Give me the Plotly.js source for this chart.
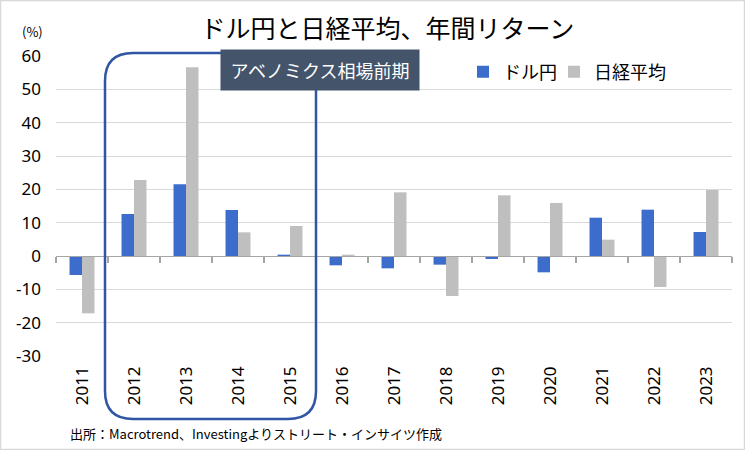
<!DOCTYPE html>
<html><head><meta charset="utf-8">
<script src="https://cdn.plot.ly/plotly-3.0.1.min.js"></script>
<style>body{margin:0;background:#fff}#c{width:745px;height:450px}</style>
</head><body><div id="c"></div>
<script>
const years = ['2011','2012','2013','2014','2015','2016','2017','2018','2019','2020','2021','2022','2023'];
const usdjpy = [-5.7, 12.6, 21.5, 13.8, 0.4, -2.8, -3.7, -2.6, -0.9, -4.9, 11.5, 13.9, 7.2];
const nikkei = [-17.2, 22.8, 56.6, 7.1, 9.0, 0.4, 19.1, -12.0, 18.2, 15.9, 4.9, -9.3, 19.8];
const seriesNames = ['ドル円', '日経平均'];
const yTicks = [-30, -20, -10, 0, 10, 20, 30, 40, 50, 60];

const FONT = '"Noto Sans CJK JP", "Noto Sans", sans-serif';
const NUMFONT = '"Noto Sans", "Noto Sans CJK JP", sans-serif';
const L = 56, R = 13, T = 56, B = 94, W = 745, H = 450;
const pw = W - L - R, ph = H - T - B;
const px = v => (v - L) / pw;
const py = v => (H - B - v) / ph;

// rounded rectangle (paper coordinates)
const rx0 = px(105), rx1 = px(316), ry0 = py(419), ry1 = py(53);
const cx = 28 / pw, cy = 28 / ph;
const rpath = `M ${rx0} ${ry1 - cy} Q ${rx0} ${ry1} ${rx0 + cx} ${ry1} L ${rx1 - cx} ${ry1} Q ${rx1} ${ry1} ${rx1} ${ry1 - cy} ` +
  `L ${rx1} ${ry0 + cy} Q ${rx1} ${ry0} ${rx1 - cx} ${ry0} L ${rx0 + cx} ${ry0} Q ${rx0} ${ry0} ${rx0} ${ry0 + cy} Z`;

const data = [
  {type: 'bar', name: seriesNames[0], x: years, y: usdjpy, marker: {color: '#3d6dcc'}, legend: 'legend'},
  {type: 'bar', name: seriesNames[1], x: years, y: nikkei, marker: {color: '#bfbfbf'}, legend: 'legend2'},
  {type: 'scatter', mode: 'markers', x: years, y: years.map(() => 0), marker: {opacity: 0, size: 1}, xaxis: 'x2', yaxis: 'y', showlegend: false, hoverinfo: 'skip'}
];

const xr = [-0.5, years.length - 0.5];
const legendBase = {orientation: 'h', xanchor: 'left', y: py(72), yanchor: 'middle', font: {size: 18, color: '#000'},
  bgcolor: 'rgba(0,0,0,0)', itemwidth: 30};
const layout = {
  width: W, height: H,
  margin: {l: L, r: R, t: T, b: B},
  paper_bgcolor: '#fff', plot_bgcolor: '#fff',
  font: {family: FONT, color: '#000'},
  barmode: 'group', bargap: 0.52, bargroupgap: 0,
  title: {text: 'ドル円と日経平均、年間リターン', font: {size: 25, color: '#000', family: FONT}, x: 0.52, xanchor: 'center', y: 0.935, yanchor: 'middle', automargin: false},
  xaxis: {type: 'category', categoryarray: years, range: xr, tickangle: -90, tickfont: {size: 17, color: '#000', family: NUMFONT},
    showgrid: false, zeroline: false, showline: false, ticks: '', ticklabelstandoff: 6, automargin: false},
  xaxis2: {type: 'category', categoryarray: years, range: xr, overlaying: 'x', anchor: 'free', position: 1/3, side: 'bottom',
    showline: true, linecolor: '#a6a6a6', linewidth: 1.2, ticks: 'outside', tickson: 'boundaries', ticklen: 6, tickwidth: 1.2,
    tickcolor: '#a6a6a6', showticklabels: false, showgrid: false, zeroline: false, automargin: false, layer: 'above traces'},
  yaxis: {range: [-30, 60], tickvals: yTicks, ticktext: yTicks.map(String), tickfont: {size: 17, color: '#000', family: NUMFONT},
    gridcolor: '#d9d9d9', gridwidth: 1, zeroline: false, showline: false, ticks: '', ticklabelstandoff: 14, automargin: false},
  legend: Object.assign({}, legendBase, {x: px(463)}),
  legend2: Object.assign({}, legendBase, {x: px(554)}),
  shapes: [
    {type: 'rect', xref: 'paper', yref: 'paper', x0: px(0.5), x1: px(744.5), y0: py(449.5), y1: py(0.5), line: {color: '#d9d9d9', width: 1.5}},
    {type: 'path', xref: 'paper', yref: 'paper', path: rpath, line: {color: '#2f55a4', width: 2.5}}
  ],
  annotations: [
    {text: 'アベノミクス相場前期', xref: 'paper', yref: 'paper', x: px(320), y: py(70), xanchor: 'center', yanchor: 'middle',
      showarrow: false, bgcolor: '#44546a', width: 196, height: 38, font: {size: 18, color: '#fff'}},
    {text: '(%)', xref: 'paper', yref: 'paper', x: px(20), y: py(31), xanchor: 'left', yanchor: 'middle', showarrow: false, font: {size: 13, color: '#000'}},
    {text: '出所：Macrotrend、Investingよりストリート・インサイツ作成', xref: 'paper', yref: 'paper', x: px(68), y: py(433), xanchor: 'left', yanchor: 'middle', showarrow: false, font: {size: 13, color: '#000'}}
  ]
};
Plotly.newPlot('c', data, layout, {displayModeBar: false, staticPlot: true});
</script></body></html>
